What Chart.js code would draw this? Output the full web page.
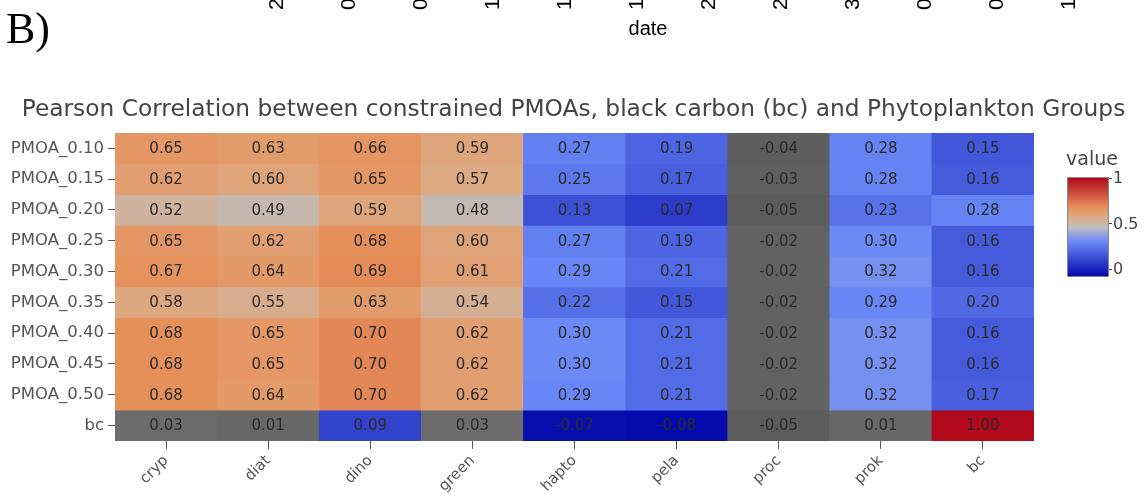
<!DOCTYPE html>
<html>
<head>
<meta charset="utf-8">
<script src="https://cdn.jsdelivr.net/npm/chart.js@4.4.1/dist/chart.umd.min.js"></script>
<style>
  html, body { margin: 0; padding: 0; background: #fff; }
  body { width: 1147px; height: 499px; position: relative; overflow: hidden; }
  #heatmap { position: absolute; left: 0; top: 0; }
</style>
</head>
<body>
<canvas id="heatmap" width="1147" height="499"></canvas>
<script>
const columns = ['cryp', 'diat', 'dino', 'green', 'hapto', 'pela', 'proc', 'prok', 'bc'];
const rows = ['PMOA_0.10', 'PMOA_0.15', 'PMOA_0.20', 'PMOA_0.25', 'PMOA_0.30',
              'PMOA_0.35', 'PMOA_0.40', 'PMOA_0.45', 'PMOA_0.50', 'bc'];

const pmoa010 = [0.65, 0.63, 0.66, 0.59, 0.27, 0.19, -0.04, 0.28, 0.15];
const pmoa015 = [0.62, 0.60, 0.65, 0.57, 0.25, 0.17, -0.03, 0.28, 0.16];
const pmoa020 = [0.52, 0.49, 0.59, 0.48, 0.13, 0.07, -0.05, 0.23, 0.28];
const pmoa025 = [0.65, 0.62, 0.68, 0.60, 0.27, 0.19, -0.02, 0.30, 0.16];
const pmoa030 = [0.67, 0.64, 0.69, 0.61, 0.29, 0.21, -0.02, 0.32, 0.16];
const pmoa035 = [0.58, 0.55, 0.63, 0.54, 0.22, 0.15, -0.02, 0.29, 0.20];
const pmoa040 = [0.68, 0.65, 0.70, 0.62, 0.30, 0.21, -0.02, 0.32, 0.16];
const pmoa045 = [0.68, 0.65, 0.70, 0.62, 0.30, 0.21, -0.02, 0.32, 0.16];
const pmoa050 = [0.68, 0.64, 0.70, 0.62, 0.29, 0.21, -0.02, 0.32, 0.17];
const bcRow   = [0.03, 0.01, 0.09, 0.03, -0.07, -0.08, -0.05, 0.01, 1.00];

// 1 = cell shaded grey instead of using the colour scale
const masked = [
  [0, 0, 0, 0, 0, 0, 1, 0, 0],
  [0, 0, 0, 0, 0, 0, 1, 0, 0],
  [0, 0, 0, 0, 0, 0, 1, 0, 0],
  [0, 0, 0, 0, 0, 0, 1, 0, 0],
  [0, 0, 0, 0, 0, 0, 1, 0, 0],
  [0, 0, 0, 0, 0, 0, 1, 0, 0],
  [0, 0, 0, 0, 0, 0, 1, 0, 0],
  [0, 0, 0, 0, 0, 0, 1, 0, 0],
  [0, 0, 0, 0, 0, 0, 1, 0, 0],
  [1, 1, 0, 1, 0, 0, 1, 1, 0]
];

const colorbarTicks = [0, 0.5, 1];

// first digits of the date axis of the panel above
const dateTickHeads = ['2', '0', '0', '1', '1', '1', '2', '2', '3', '0', '0', '1'];

const valueRows = [pmoa010, pmoa015, pmoa020, pmoa025, pmoa030,
                   pmoa035, pmoa040, pmoa045, pmoa050, bcRow];

// colour range runs from the smallest to the largest correlation
const zmin = Math.min(...valueRows.flat());
const zmax = Math.max(...valueRows.flat());

// reversed RdBu scale, low = blue, high = red
const rdbuStops = [
  [0, [5, 10, 172]],
  [0.35, [106, 137, 247]],
  [0.5, [190, 190, 190]],
  [0.6, [220, 170, 132]],
  [0.7, [230, 145, 90]],
  [1, [178, 10, 28]]
];

function colourFor(v) {
  const t = Math.min(1, Math.max(0, (v - zmin) / (zmax - zmin)));
  for (let k = 1; k < rdbuStops.length; k++) {
    const [t1, c1] = rdbuStops[k];
    const [t0, c0] = rdbuStops[k - 1];
    if (t <= t1) {
      const f = (t - t0) / (t1 - t0);
      const c = c0.map((ch, n) => Math.round(ch + (c1[n] - ch) * f));
      return `rgb(${c[0]},${c[1]},${c[2]})`;
    }
  }
  return 'rgb(178,10,28)';
}

function greyFor(v) {
  const g = Math.round(102 + v * 200);
  return `rgb(${g},${g},${g})`;
}

const FONT = '"DejaVu Sans", Verdana, sans-serif';

const cellLabels = {
  id: 'cellLabels',
  afterDatasetsDraw(chart) {
    const ctx = chart.ctx;
    ctx.save();
    ctx.font = `15px ${FONT}`;
    ctx.fillStyle = '#2a2a2a';
    ctx.textAlign = 'center';
    ctx.textBaseline = 'middle';
    valueRows.forEach((vals, i) => {
      chart.getDatasetMeta(i).data.forEach((bar, j) => {
        ctx.fillText(vals[j].toFixed(2), bar.x, (bar.y + bar.base) / 2 + 1);
      });
    });
    ctx.restore();
  }
};

const colorbar = {
  id: 'colorbar',
  afterDraw(chart) {
    const ctx = chart.ctx;
    const x = 1068, w = 40, top = 178, bottom = 276;
    const yFor = v => bottom - (v - zmin) / (zmax - zmin) * (bottom - top);
    const grad = ctx.createLinearGradient(0, bottom, 0, top);
    for (let s = 0; s <= 40; s++) {
      grad.addColorStop(s / 40, colourFor(zmin + s / 40 * (zmax - zmin)));
    }
    ctx.save();
    ctx.fillStyle = grad;
    ctx.fillRect(x, top, w, bottom - top);
    ctx.strokeStyle = '#8a8a8a';
    ctx.lineWidth = 1;
    ctx.strokeRect(x - 0.5, top - 0.5, w + 1, bottom - top + 1);

    ctx.fillStyle = '#444';
    ctx.font = `16px ${FONT}`;
    ctx.textAlign = 'left';
    ctx.textBaseline = 'middle';
    colorbarTicks.forEach(t => {
      const y = yFor(t);
      ctx.fillRect(x + w + 1, Math.round(y), 3, 1);
      ctx.fillText(String(t), x + w + 5, y + 1);
    });
    ctx.font = `19px ${FONT}`;
    ctx.fillText('value', x - 2, 160);
    ctx.restore();
  }
};

// panel letter and the clipped date axis left over from the panel above
const panelHeader = {
  id: 'panelHeader',
  afterDraw(chart) {
    const ctx = chart.ctx;
    ctx.save();
    ctx.fillStyle = '#000';
    ctx.font = '44px "Liberation Serif", serif';
    ctx.textAlign = 'left';
    ctx.textBaseline = 'alphabetic';
    ctx.fillText('B)', 6, 43);

    ctx.font = '20px "Liberation Sans", Arial, sans-serif';
    ctx.textAlign = 'center';
    ctx.fillText('date', 648, 35);

    ctx.font = '21px "Liberation Sans", Arial, sans-serif';
    ctx.textAlign = 'left';
    ctx.textBaseline = 'middle';
    dateTickHeads.forEach((d, i) => {
      ctx.save();
      ctx.translate(277 + i * 72, 10);
      ctx.rotate(-Math.PI / 2);
      ctx.fillText(d, 0, 0);
      ctx.restore();
    });
    ctx.restore();
  }
};

function drawHeatmap() {
  const ctx = document.getElementById('heatmap');
  new Chart(ctx, {
    type: 'bar',
    data: {
      labels: columns,
      datasets: valueRows.map((vals, i) => ({
        label: rows[i],
        data: vals.map(() => [i, i + 1]),
        backgroundColor: vals.map((v, j) => masked[i][j] ? greyFor(v) : colourFor(v)),
        borderWidth: 0,
        barPercentage: 1,
        categoryPercentage: 1,
        grouped: false
      }))
    },
    options: {
      responsive: false,
      animation: false,
      layout: {
        padding: 0
      },
      plugins: {
        legend: { display: false },
        tooltip: { enabled: false },
        title: {
          display: true,
          text: 'Pearson Correlation between constrained PMOAs, black carbon (bc) and Phytoplankton Groups',
          color: '#444',
          font: { family: FONT, size: 23.3, weight: 'normal', lineHeight: 1.2 },
          padding: { top: 96, bottom: 9 }
        }
      },
      scales: {
        x: {
          type: 'category',
          offset: true,
          afterFit: scale => { scale.height = 58; },
          grid: { offset: false, drawOnChartArea: false, tickLength: 8, tickColor: '#555' },
          border: { display: false },
          ticks: {
            color: '#555',
            font: { family: FONT, size: 15 },
            minRotation: 45,
            maxRotation: 45,
            autoSkip: false,
            padding: 3
          }
        },
        y: {
          type: 'linear',
          min: 0,
          max: 10,
          reverse: true,
          afterFit: scale => { scale.width = 115; },
          afterBuildTicks: scale => {
            scale.ticks = rows.map((r, i) => ({ value: i + 0.5 }));
          },
          grid: { drawOnChartArea: false, tickLength: 7, tickColor: '#555' },
          border: { display: false },
          ticks: {
            color: '#555',
            font: { family: FONT, size: 16.5 },
            padding: 4,
            callback: (value, index) => rows[index]
          }
        },
        // empty strip on the right that leaves room for the colour bar
        colorbarSpace: {
          type: 'linear',
          position: 'right',
          afterFit: scale => { scale.width = 113; },
          grid: { display: false },
          border: { display: false },
          ticks: { display: false }
        }
      }
    },
    plugins: [cellLabels, colorbar, panelHeader]
  });
}

document.fonts.load(`16px ${FONT}`).then(drawHeatmap, drawHeatmap);
</script>
</body>
</html>
